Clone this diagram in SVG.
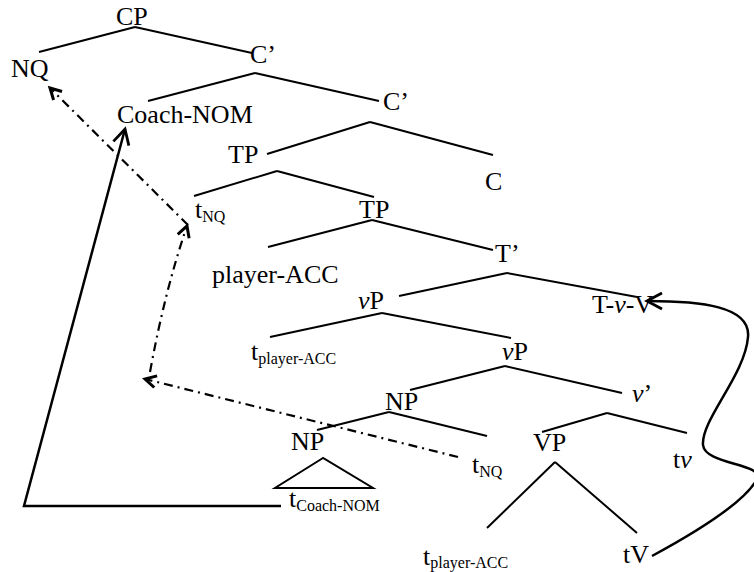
<svg xmlns="http://www.w3.org/2000/svg" width="754" height="572" viewBox="0 0 754 572">
<style>
text{font-family:"Liberation Serif","Times New Roman",serif;font-size:26px;fill:#000}
.sub{font-size:16px}
.it{font-style:italic}
.br{stroke:#000;stroke-width:2;fill:none}
.mv{stroke:#000;stroke-width:2.5;fill:none}
.dd{stroke:#000;stroke-width:2.2;fill:none;stroke-dasharray:9 5 2 5}
</style>
<defs>
<marker id="ah" markerUnits="userSpaceOnUse" markerWidth="24" markerHeight="24" refX="20" refY="12" orient="auto" overflow="visible">
<path d="M5,4 L20,12 L5,20" fill="none" stroke="#000" stroke-width="2.8"/>
</marker>
<marker id="ahs" markerUnits="userSpaceOnUse" markerWidth="20" markerHeight="20" refX="16" refY="10" orient="auto" overflow="visible">
<path d="M5,4 L16,10 L5,16" fill="none" stroke="#000" stroke-width="3"/>
</marker>
</defs>
<g id="connectors">
<line class="br" x1="135" y1="27" x2="39" y2="52"/>
<line class="br" x1="135" y1="27" x2="252" y2="53"/>
<line class="br" x1="255" y1="73" x2="148" y2="101"/>
<line class="br" x1="255" y1="73" x2="379" y2="101"/>
<line class="br" x1="370" y1="122" x2="267" y2="154"/>
<line class="br" x1="370" y1="122" x2="493" y2="155"/>
<line class="br" x1="277" y1="171" x2="194" y2="196"/>
<line class="br" x1="277" y1="171" x2="374" y2="197"/>
<line class="br" x1="372" y1="220" x2="268" y2="247"/>
<line class="br" x1="372" y1="220" x2="493" y2="250"/>
<line class="br" x1="507" y1="273" x2="399" y2="296"/>
<line class="br" x1="507" y1="273" x2="637" y2="297"/>
<line class="br" x1="382" y1="313" x2="270" y2="337"/>
<line class="br" x1="382" y1="313" x2="511" y2="338"/>
<line class="br" x1="505" y1="366" x2="410" y2="390"/>
<line class="br" x1="505" y1="366" x2="622" y2="393"/>
<line class="br" x1="389" y1="412" x2="317" y2="430"/>
<line class="br" x1="389" y1="412" x2="487" y2="436"/>
<line class="br" x1="607" y1="413" x2="542" y2="432"/>
<line class="br" x1="607" y1="413" x2="687" y2="433"/>
<line class="br" x1="555" y1="462" x2="487" y2="528"/>
<line class="br" x1="555" y1="462" x2="637" y2="533"/>
<path class="br" d="M323,458 L275,488 L373,488 Z"/>
<polyline class="mv" points="281,506 24,506 125,129" marker-end="url(#ah)"/>
<path class="mv" d="M652,556 C700,530 745,502 757,479 C764,463 705,465 703,445 C701,420 745,375 748,337 C751,306 700,301 647,301" marker-end="url(#ah)"/>
<line class="dd" x1="458" y1="457" x2="145" y2="379" marker-end="url(#ahs)"/>
<path class="dd" d="M150,372 Q165,290 187,226" marker-end="url(#ahs)"/>
<line class="dd" x1="188" y1="225" x2="50" y2="88" marker-end="url(#ahs)"/>
</g>
<g id="CP"><text x="116" y="25">CP</text></g>
<g id="NQ"><text x="11" y="77">NQ</text></g>
<g id="Cbar1"><text x="250" y="63">C’</text></g>
<g id="CoachNOM"><text x="117" y="123">Coach-NOM</text></g>
<g id="Cbar2"><text x="383" y="110">C’</text></g>
<g id="TP1"><text x="228" y="163">TP</text></g>
<g id="C"><text x="485" y="190">C</text></g>
<g id="tNQ1"><text x="195" y="218">t<tspan class="sub" dy="4">NQ</tspan></text></g>
<g id="TP2"><text x="359" y="218">TP</text></g>
<g id="playerACC"><text x="212" y="283">player-ACC</text></g>
<g id="Tbar"><text x="495" y="262">T’</text></g>
<g id="vP1"><text x="358" y="309"><tspan class="it">v</tspan>P</text></g>
<g id="TvV"><text x="592" y="313">T-<tspan class="it">v</tspan>-V</text></g>
<g id="tplayer1"><text x="251" y="360">t<tspan class="sub" dy="4">player-ACC</tspan></text></g>
<g id="vP2"><text x="502" y="360"><tspan class="it">v</tspan>P</text></g>
<g id="NP1"><text x="385" y="410">NP</text></g>
<g id="vbar"><text x="632" y="402"><tspan class="it">v</tspan>’</text></g>
<g id="NP2"><text x="291" y="450">NP</text></g>
<g id="VP"><text x="533" y="451">VP</text></g>
<g id="tv"><text x="673" y="468">t<tspan class="it">v</tspan></text></g>
<g id="tNQ2"><text x="472" y="473">t<tspan class="sub" dy="4">NQ</tspan></text></g>
<g id="tCoach"><text x="289" y="507">t<tspan class="sub" dy="4">Coach-NOM</tspan></text></g>
<g id="tplayer2"><text x="423" y="565">t<tspan class="sub" dy="3">player-ACC</tspan></text></g>
<g id="tV"><text x="623" y="563">tV</text></g>
</svg>
